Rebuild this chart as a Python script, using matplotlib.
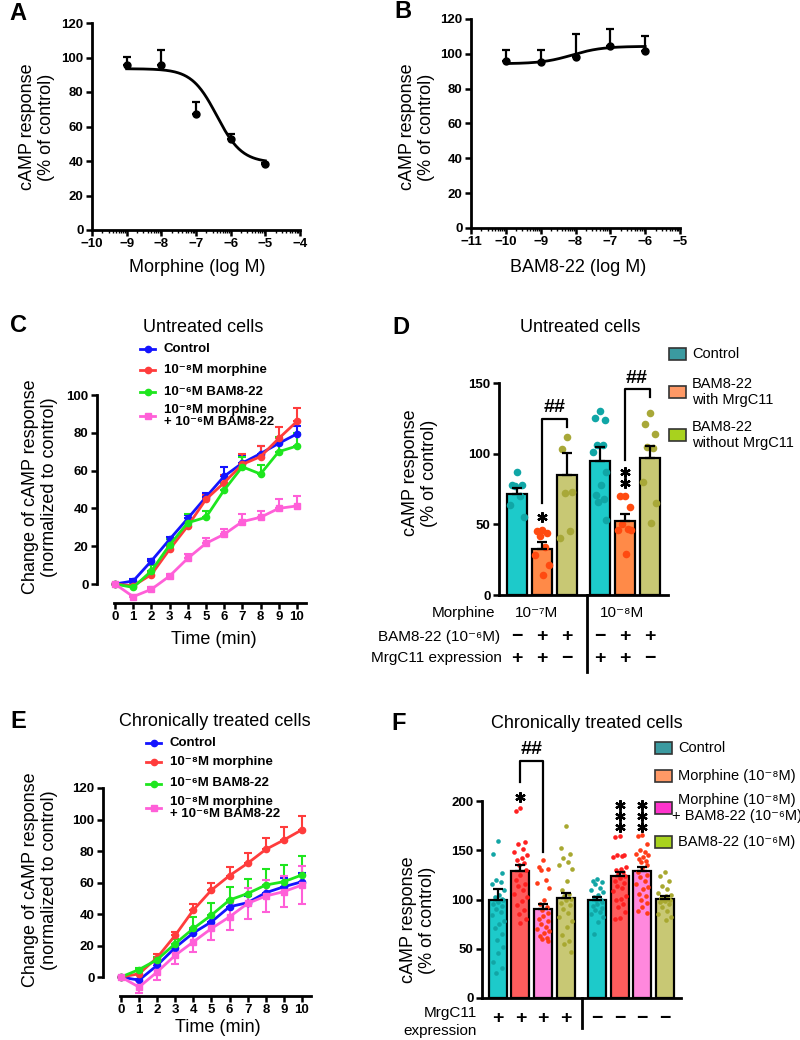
import numpy as np
import matplotlib
matplotlib.use('Agg')
import matplotlib.pyplot as plt
from matplotlib.lines import Line2D
from matplotlib.patches import Rectangle

plt.rcParams['font.family'] = ['Liberation Sans', 'DejaVu Sans']

W, H = 800, 1040

# ---------------- data ----------------
# A: morphine dose response
morphine_log = [-9, -8, -7, -6, -5]
morphine_resp = [95.5, 95.5, 67.5, 52.5, 38.5]
morphine_err = [5, 9, 6.5, 3, 0.5]
morphine_fit = dict(left=93.5, right=39.0, logec50=-6.4, hill=1.2)

# B: BAM8-22 dose response
bam_log = [-10, -9, -8, -7, -6]
bam_resp = [96, 95.3, 98, 104.7, 101.4]
bam_err = [6.4, 6.7, 13.6, 9.6, 9]
bam_fit = dict(left=94.3, right=104.3, logec50=-8.1, hill=1.0)

# C: untreated cells, time course
time_min = list(range(11))
c_control = [0, 1.6, 12.2, 23.6, 34.7, 46, 57, 64, 69, 74.4, 79.4]
c_control_err = [0, 1, 1, 1.5, 2, 2, 5, 4, 4, 3, 4]
c_morph = [0, -1, 5, 18.3, 30.7, 44.8, 53.6, 63.3, 67.4, 77, 86]
c_morph_err = [0, 1.5, 1.5, 1.5, 2, 2.5, 4, 5.5, 5.5, 6, 7]
c_bam = [0, -1.8, 6.9, 20.6, 32.4, 35.3, 49.7, 62, 58.2, 70, 73]
c_bam_err = [0, 2, 3, 3, 4.5, 3.3, 3.3, 5, 5, 8, 7]
c_combo = [0, -6.7, -2.8, 4.2, 13.6, 21.5, 26.3, 33, 35.3, 40, 41.3]
c_combo_err = [0, 1, 1, 1, 2.5, 3, 3, 4, 3.5, 5, 5]

# E: chronically treated cells, time course
e_control = [0, -2, 7.4, 18.7, 28, 35, 44.6, 47.2, 53.5, 57.3, 60.5]
e_control_err = [0, 1, 1.5, 2, 2, 3, 4.5, 4, 5, 5.5, 5.5]
e_morph = [0, 2, 12.3, 26.5, 42.5, 55.2, 64.4, 72.2, 81, 87, 93.5]
e_morph_err = [0, 1.5, 2.5, 2.2, 3.8, 4.8, 5.6, 6.4, 7, 8, 8.5]
e_bam = [0, 4.7, 11, 21.2, 30.8, 39.3, 48.9, 53, 58.4, 60.5, 64.8]
e_bam_err = [0, 1, 2, 3, 7, 7.5, 8, 9, 10, 10.5, 12]
e_combo = [0, -6.4, 3.2, 13.8, 22.3, 30.8, 38.2, 46.7, 51.4, 54.2, 58.4]
e_combo_err = [0, 3.6, 5, 5.3, 6.4, 7.4, 8.5, 10, 10, 10, 12]

# D: untreated cells, bars
d_mean = [71.5, 32.8, 85.2, 95.0, 52.6, 96.9]
d_err = [4, 4.7, 15, 9.5, 4.7, 8.7]
d_dots = [[87, 78, 78, 77, 70, 64, 55],
          [46, 45, 44, 42, 34, 28, 21, 14],
          [112, 103, 73, 72, 45, 40],
          [130, 125, 124, 106, 106, 101, 87, 78, 71, 68, 66, 53],
          [70, 70, 62, 50, 47, 46, 46, 29],
          [129, 121, 114, 105, 104, 80, 65, 51]]
d_legend = ['Control', 'BAM8-22\nwith MrgC11', 'BAM8-22\nwithout MrgC11']
d_bam_row = ['−', '+', '+', '−', '+', '+']
d_mrg_row = ['+', '+', '−', '+', '+', '−']
d_groups = ['10⁻⁷M', '10⁻⁸M']

# F: chronically treated cells, bars
f_mean = [99.8, 128.8, 90.7, 101.5, 99.8, 124.1, 128.8, 100.8]
f_err = [10.5, 6.4, 5.1, 5.4, 2.7, 3.7, 4.1, 2.4]
f_dots = [[159, 146, 127, 120, 118, 116, 110, 105, 103, 101, 100, 99, 97, 95, 93,
           90, 87, 84, 78, 75, 71, 65, 59, 52, 46, 37, 30, 25],
          [193, 190, 158, 156, 151, 148, 145, 142, 140, 137, 135, 130, 125, 120,
           116, 114, 110, 106, 103, 98, 94, 89, 85, 80, 76],
          [140, 133, 131, 130, 120, 117, 112, 99, 95, 92, 89, 86, 83, 80, 78, 75,
           72, 70, 68, 66, 63, 61, 60, 58],
          [175, 152, 146, 142, 138, 135, 131, 119, 110, 106, 104, 101, 99, 96, 94,
           90, 86, 82, 78, 72, 64, 58, 55, 47],
          [121, 119, 118, 116, 112, 110, 108, 105, 103, 100, 99, 97, 95, 93, 91,
           89, 87, 85, 82, 77, 65],
          [164, 163, 145, 145, 144, 143, 133, 131, 130, 128, 126, 124, 122, 119,
           117, 114, 112, 109, 104, 101, 99, 95, 92, 87, 81, 80],
          [165, 164, 156, 150, 148, 146, 145, 143, 141, 139, 138, 135, 132, 128,
           125, 123, 119, 116, 113, 111, 106, 104, 100, 96, 92, 88, 86],
          [128, 124, 119, 114, 111, 107, 105, 104, 102, 101, 100, 99, 98, 97, 95,
           92, 88, 85, 82, 79]]
f_legend = ['Control', 'Morphine (10⁻⁸M)', 'Morphine (10⁻⁸M)\n+ BAM8-22 (10⁻⁶M)',
            'BAM8-22 (10⁻⁶M)']
f_mrg_row = ['+', '+', '+', '+', '−', '−', '−', '−']

# ---------------- helpers ----------------
fig = plt.figure(figsize=(W / 100, H / 100), dpi=100)


def fx(x):
    return x / W


def fy(y):
    return 1 - y / H


def add_ax(x0, y0, x1, y1):
    return fig.add_axes([fx(x0), fy(y1), (x1 - x0) / W, (y1 - y0) / H])


def ftext(x, y, s, **kw):
    kw.setdefault('ha', 'center')
    kw.setdefault('va', 'center')
    fig.text(fx(x), fy(y), s, **kw)


def fmt(v):
    return str(v).replace('-', '−')


def prism(ax, xticks=None, yticks=None):
    for s in ['top', 'right']:
        ax.spines[s].set_visible(False)
    for s in ['left', 'bottom']:
        ax.spines[s].set_linewidth(2)
    ax.tick_params(direction='out', width=1.8, length=4.5, labelsize=9.5, pad=1.5)
    if xticks is not None:
        ax.set_xticks(xticks, labels=[fmt(v) for v in xticks], fontweight='bold')
    else:
        ax.set_xticks([])
    if yticks is not None:
        ax.set_yticks(yticks, labels=[fmt(v) for v in yticks], fontweight='bold')


def logistic(x, left, right, logec50, hill):
    return right + (left - right) / (1 + 10 ** (hill * (x - logec50)))


def panel_letter(x, y, s):
    ftext(x, y, s, ha='left', fontsize=17, fontweight='bold')


# ---------------- A ----------------
axA = add_ax(92, 23, 300, 230)
axA.set_xlim(-10, -4)
axA.set_ylim(0, 120)
xs = np.linspace(morphine_log[0], morphine_log[-1], 200)
axA.plot(xs, logistic(xs, **morphine_fit), color='k', lw=2)
axA.errorbar(morphine_log, morphine_resp, yerr=[np.zeros(5), morphine_err], fmt='o',
             color='k', ms=5, capsize=3, elinewidth=1.6, capthick=1.6)
prism(axA, list(range(-10, -3)), list(range(0, 121, 20)))
axA.set_xticks([d + np.log10(k) for d in range(-10, -4) for k in range(2, 10)], minor=True)
axA.tick_params(which='minor', length=2.5, width=1)
panel_letter(9, 13, 'A')
ftext(37, 127, 'cAMP response\n(% of control)', rotation=90, fontsize=13, linespacing=1.15)
ftext(197, 267, 'Morphine (log M)', fontsize=13)

# ---------------- B ----------------
axB = add_ax(471, 19, 680, 228)
axB.set_xlim(-11, -5)
axB.set_ylim(0, 120)
xs = np.linspace(bam_log[0], bam_log[-1], 200)
axB.plot(xs, logistic(xs, **bam_fit), color='k', lw=2)
axB.errorbar(bam_log, bam_resp, yerr=[np.zeros(5), bam_err], fmt='o',
             color='k', ms=5, capsize=3, elinewidth=1.6, capthick=1.6)
prism(axB, list(range(-11, -4)), list(range(0, 121, 20)))
axB.set_xticks([d + np.log10(k) for d in range(-11, -5) for k in range(2, 10)], minor=True)
axB.tick_params(which='minor', length=2.5, width=1)
panel_letter(394, 11, 'B')
ftext(417, 127, 'cAMP response\n(% of control)', rotation=90, fontsize=13, linespacing=1.15)
ftext(578, 267, 'BAM8-22 (log M)', fontsize=13)

# ---------------- C & E time courses ----------------
line_colors = ['#1414ff', '#ff3c3c', '#1ee61e', '#ff5fd8']
line_markers = ['o', 'o', 'o', 's']


def time_panel(box, ylim, yticks, series, errs, two_sided):
    ax = add_ax(*box)
    ax.set_xlim(-0.99, 10.72)
    ax.set_ylim(*ylim)
    for i, (vals, err) in enumerate(zip(series, errs)):
        lower = err if two_sided[i] else np.zeros(len(err))
        ax.errorbar(time_min, vals, yerr=[lower, err], color=line_colors[i],
                    marker=line_markers[i], ms=4.5, lw=2, capsize=3,
                    elinewidth=1.5, capthick=1.5, clip_on=False)
    prism(ax, list(range(0, 11)), yticks)
    ax.spines['left'].set_bounds(0, yticks[-1])
    ax.spines['bottom'].set_bounds(-0.05, 10.5)
    return ax


def time_legend(x0, ys, labels):
    for i, (y, lab) in enumerate(zip(ys, labels)):
        fig.add_artist(Line2D([fx(x0), fx(x0 + 15)], [fy(y), fy(y)], color=line_colors[i], lw=2))
        fig.add_artist(Line2D([fx(x0 + 7.5)], [fy(y)], color=line_colors[i],
                              marker=line_markers[i], ms=4.5))
        ftext(x0 + 24, y, lab, ha='left', fontsize=9.5, fontweight='bold', linespacing=1.0)


time_labels = ['Control', '10⁻⁸M morphine', '10⁻⁶M BAM8-22', '10⁻⁸M morphine\n+ 10⁻⁶M BAM8-22']

time_panel((97, 395, 310, 603), (-10.05, 100), list(range(0, 101, 20)),
           [c_control, c_morph, c_bam, c_combo],
           [c_control_err, c_morph_err, c_bam_err, c_combo_err],
           [False, False, False, False])
panel_letter(10, 326, 'C')
ftext(203, 328, 'Untreated cells', fontsize=13)
time_legend(140, [349, 369.5, 392, 416], time_labels)
ftext(40, 487, 'Change of cAMP response\n(normalized to control)', rotation=90, fontsize=13,
      linespacing=1.15)
ftext(214, 640, 'Time (min)', fontsize=13)

time_panel((103, 788, 315, 996), (-12.06, 120), list(range(0, 121, 20)),
           [e_control, e_morph, e_bam, e_combo],
           [e_control_err, e_morph_err, e_bam_err, e_combo_err],
           [False, False, False, True])
panel_letter(10, 722, 'E')
ftext(215, 721, 'Chronically treated cells', fontsize=13)
time_legend(146, [743, 762, 783.5, 808], time_labels)
ftext(40, 880, 'Change of cAMP response\n(normalized to control)', rotation=90, fontsize=13,
      linespacing=1.15)
ftext(218, 1028, 'Time (min)', fontsize=13)

# ---------------- bar panels ----------------
SPREAD = np.array([0.0, -0.2, 0.2, -0.1, 0.12, -0.27, 0.27, 0.05, -0.15, 0.16, -0.05, 0.24])


def bar_panel(ax, pos, means, errs, dots, bar_cols, dot_cols, dot_size):
    ax.bar(pos, means, width=0.8, color=bar_cols, edgecolor='k', lw=1.6, zorder=2)
    for p, vals, c in zip(pos, dots, dot_cols):
        off = SPREAD[np.arange(len(vals)) % len(SPREAD)]
        ax.scatter(np.array(p) + off, vals, s=dot_size, color=c, linewidths=0, zorder=3,
                   clip_on=False)
    ax.errorbar(pos, means, yerr=[np.zeros(len(errs)), errs], fmt='none', ecolor='k',
                elinewidth=1.6, capsize=3.5, capthick=1.6, zorder=4)


def bracket(ax, x1, x2, y1, y2, top, label_y):
    ax.plot([x1, x1, x2, x2], [y1, top, top, y2], color='k', lw=1.6, clip_on=False)
    ax.text((x1 + x2) / 2, label_y, '##', ha='center', va='center', fontsize=14,
            fontweight='bold')


def stars(ax, x, ys, size):
    ax.plot([x] * len(ys), ys, ls='none', marker=(6, 2, 0), ms=size, mew=1.6, color='k',
            clip_on=False)


def legend_boxes(x0, ys, labels, colors, text_kw):
    for y, lab, c, kw in zip(ys, labels, colors, text_kw):
        fig.add_artist(Rectangle((fx(x0), fy(y + 6)), 17 / W, 12 / H, facecolor=c,
                                 edgecolor='#333333', lw=1.2))
        ftext(**dict(dict(x=x0 + 23, y=y, s=lab, ha='left', fontsize=10.5, linespacing=1.2), **kw))


# D
d_pos = [0, 1, 2, 3.3, 4.3, 5.3]
axD = add_ax(499, 383, 668, 595)
axD.set_xlim(-0.72, 6.04)
axD.set_ylim(0, 150)
bar_panel(axD, d_pos, d_mean, d_err, d_dots,
          ['#1dcaca', '#ff8a48', '#c8c874'] * 2,
          ['#10a6a6', '#ff4a10', '#a8a838'] * 2, 30)
prism(axD, None, [0, 50, 100, 150])
bracket(axD, d_pos[1], d_pos[2], 65, 119, 124.5, 133)
bracket(axD, d_pos[4], d_pos[5], 95.5, 140, 145.6, 153.5)
stars(axD, d_pos[1], [55.4], 7.5)
stars(axD, d_pos[4], [87.3, 79], 7.5)
panel_letter(392, 328, 'D')
ftext(580, 328, 'Untreated cells', fontsize=13)
ftext(420, 473, 'cAMP response\n(% of control)', rotation=90, fontsize=13, linespacing=1.15)
legend_boxes(669, [354, 392, 435], d_legend, ['#3b9aa0', '#ff9966', '#a8d21e'],
             [{}, {}, {}])
ftext(495, 613, 'Morphine', ha='right', fontsize=11)
ftext(500, 637, 'BAM8-22 (10⁻⁶M)', ha='right', fontsize=11)
ftext(502, 658, 'MrgC11 expression', ha='right', fontsize=11)
for g, xc in zip(d_groups, [537, 622]):
    ftext(xc, 613, g, fontsize=11)
for row, y in zip([d_bam_row, d_mrg_row], [637, 658]):
    for p, s in zip(d_pos, row):
        xd = axD.transData.transform((p, 0))[0]
        ftext(xd, y, s, fontsize=14, fontweight='bold')
fig.add_artist(Line2D([fx(587), fx(587)], [fy(595), fy(672)], color='k', lw=2))

# F
f_pos = [0, 1, 2, 3, 4.4, 5.4, 6.4, 7.4]
axF = add_ax(482, 801, 681, 998)
axF.set_xlim(-0.71, 8.13)
axF.set_ylim(0, 200)
bar_panel(axF, f_pos, f_mean, f_err, f_dots,
          ['#1dcaca', '#ff5c5c', '#ff88dd', '#c8c874'] * 2,
          ['#12a5a5', '#ff2020', '#ff3c18', '#a8a830'] * 2, 11)
prism(axF, None, [0, 50, 100, 150, 200])
bracket(axF, f_pos[1], f_pos[2], 219.6, 148.5, 241, 252)
stars(axF, f_pos[1], [204.4], 7.5)
stars(axF, f_pos[5], [196, 185, 174], 7.5)
stars(axF, f_pos[6], [196, 185, 174], 7.5)
panel_letter(391, 723, 'F')
ftext(587, 723, 'Chronically treated cells', fontsize=13)
ftext(418, 920, 'cAMP response\n(% of control)', rotation=90, fontsize=13, linespacing=1.15)
legend_boxes(655, [748, 776, 808, 842], f_legend,
             ['#3b9aa0', '#ff9966', '#ff33cc', '#a8d21e'],
             [{}, {}, dict(x=737, ha='center'), {}])
ftext(477, 1022, 'MrgC11\nexpression', ha='right', fontsize=11, linespacing=1.3)
for p, s in zip(f_pos, f_mrg_row):
    xd = axF.transData.transform((p, 0))[0]
    ftext(xd, 1018, s, fontsize=14, fontweight='bold')
fig.add_artist(Line2D([fx(582), fx(582)], [fy(998), fy(1028)], color='k', lw=2))

fig.savefig('out.png', dpi=100)
